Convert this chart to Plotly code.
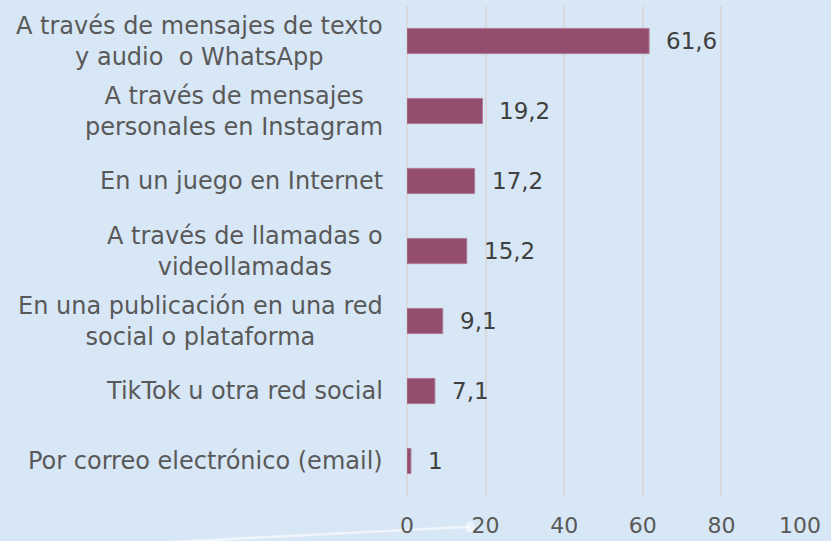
import plotly.graph_objects as go

# Data
categories = [
    "A través de mensajes de texto<br>y audio  o WhatsApp",
    "A través de mensajes<br>personales en Instagram",
    "En un juego en Internet",
    "A través de llamadas o<br>videollamadas",
    "En una publicación en una red<br>social o plataforma",
    "TikTok u otra red social",
    "Por correo electrónico (email)",
]
values = [61.6, 19.2, 17.2, 15.2, 9.1, 7.1, 1]
x_ticks = [0, 20, 40, 60, 80, 100]

bg = "#d7e7f6"
bar_color = "#934e6f"
font_family = "DejaVu Sans, Verdana, sans-serif"

fig = go.Figure()

fig.add_trace(go.Bar(
    y=list(range(len(categories))),
    x=values,
    orientation="h",
    marker=dict(color=bar_color, line=dict(color="#b07a93", width=1)),
    width=0.36,
    hoverinfo="skip",
))

# value labels to the right of each bar
for i, v in enumerate(values):
    fig.add_annotation(
        x=v, y=i, xref="x", yref="y",
        text=f"{v:g}".replace(".", ","),
        showarrow=False, xanchor="left", xshift=15,
        font=dict(size=23, color="#404040", family=font_family),
    )

# category labels, centred lines, right edge near the axis
for i, c in enumerate(categories):
    fig.add_annotation(
        x=0, y=i, xref="paper", yref="y",
        text=c, showarrow=False, xanchor="right", xshift=-22,
        align="center",
        font=dict(size=24, color="#595959", family=font_family),
    )

# faint white decorative stroke at the bottom left
fig.add_shape(
    type="line", xref="paper", yref="paper",
    x0=-0.6, y0=-0.094, x1=0.16, y1=-0.063,
    line=dict(color="rgba(255,255,255,0.6)", width=2.5),
    layer="below",
)
fig.add_shape(
    type="circle", xref="paper", yref="paper",
    x0=0.148, y0=-0.074, x1=0.172, y1=-0.052,
    fillcolor="rgba(255,255,255,0.55)", line=dict(width=0),
    layer="below",
)

fig.update_xaxes(
    range=[0, 100],
    tickvals=x_ticks,
    showgrid=True, gridcolor="#d9d9d9", gridwidth=2,
    zeroline=True, zerolinecolor="#d9d9d9", zerolinewidth=2,
    showline=False,
    tickfont=dict(size=22, color="#595959", family=font_family),
    ticklabelstandoff=14,
    automargin=False,
    fixedrange=True,
)
fig.update_yaxes(
    range=[6.5, -0.5],
    showticklabels=False, showgrid=False, zeroline=False,
    fixedrange=True,
)

fig.update_layout(
    width=831, height=541,
    paper_bgcolor=bg, plot_bgcolor=bg,
    margin=dict(l=407, r=31, t=6, b=45),
    showlegend=False,
    font=dict(family=font_family),
)

fig.write_html(
    "out.html",
    config={"displayModeBar": False},
    post_script="document.body.style.margin='0';",
)
